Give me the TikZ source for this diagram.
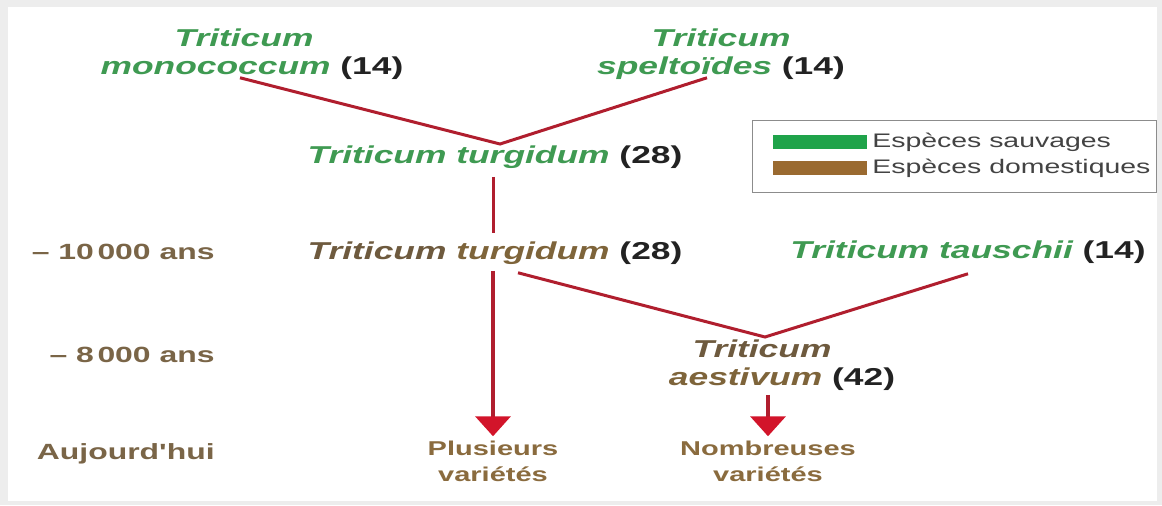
\documentclass[tikz,border=0pt]{standalone}
\usepackage{fontspec}
\usetikzlibrary{arrows.meta,calc}
\newfontfamily\wf[FakeStretch=1.45]{Liberation Sans}
\definecolor{wild}{HTML}{3F9A52}
\definecolor{dom}{HTML}{6E5A3E}
\definecolor{domb}{HTML}{7E643A}
\definecolor{timec}{HTML}{7A6547}
\definecolor{todayc}{HTML}{8A6B3E}
\definecolor{numc}{HTML}{222222}
\definecolor{linec}{HTML}{B01E2E}
\definecolor{headc}{HTML}{D2142A}
\definecolor{swg}{HTML}{1FA34A}
\definecolor{swb}{HTML}{9A6A30}
\tikzset{
  txt/.style={inner sep=0pt, align=center, font=\wf\bfseries\fontsize{12.2}{14}\selectfont, text=numc},
  timelbl/.style={inner sep=0pt, anchor=east, font=\wf\bfseries\fontsize{11}{13}\selectfont, text=timec},
  outlbl/.style={inner sep=0pt, align=center, font=\wf\bfseries\fontsize{10}{13}\selectfont, text=todayc},
  leglbl/.style={inner sep=0pt, anchor=west, font=\wf\fontsize{9.8}{12}\selectfont, text=numc!85},
  link/.style={draw=linec, line width=1.5pt},
  evol/.style={draw=linec, line width=2pt, -{Triangle[width=17.5pt,length=10pt,color=headc]}},
  swatch/.style={inner sep=0pt, minimum width=47pt, minimum height=7pt},
}
\newcommand{\wsp}[1]{\textcolor{wild}{\itshape #1}}
\newcommand{\dsp}[1]{\textcolor{dom}{\itshape #1}}
\begin{document}
\begin{tikzpicture}[x=0.5pt,y=-0.5pt]
\useasboundingbox (0,0) rectangle (1162,505);
\fill[black!7] (0,0) rectangle (1162,505);
\fill[white] (8,7) rectangle (1157,501);

% species
\node[txt] (mono) at (252,54) {\wsp{Triticum}\hspace*{8pt}\\\wsp{monococcum} (14)};
\node[txt] (spel) at (721,54) {\wsp{Triticum}\\\wsp{spelto\"{\i}des} (14)};
\node[txt] (turgw) at (495,157) {\wsp{Triticum turgidum} (28)};
\node[txt] (turgd) at (495,253) {\dsp{Triticum} \textcolor{domb}{\itshape turgidum} (28)};
\node[txt] (taus) at (968,252) {\wsp{Triticum tauschii} (14)};
\node[txt] (aest) at (782,365) {\dsp{Triticum}\hspace*{20pt}\\\textcolor{domb}{\itshape aestivum} (42)};

% time labels
\node[timelbl] (t1) at (215,252) {\textendash\ 10\,000 ans};
\node[timelbl] (t2) at (215,355) {\textendash\ 8\,000 ans};
\node[timelbl] (t3) at (215,454) {Aujourd'hui};

% outcomes
\node[outlbl] (plus) at (493,461) {Plusieurs\\vari\'et\'es};
\node[outlbl] (nomb) at (768,461) {Nombreuses\\vari\'et\'es};

% legend
\node[draw=black!45, line width=0.8pt, inner sep=0pt, minimum width=202pt, minimum height=36pt] (leg) at (954.5,156.5) {};
\node[swatch, fill=swg] (sg) at (820,142) {};
\node[swatch, fill=swb] (sb) at (820,168) {};
\node[leglbl] (lg) at (872,142) {Esp\`eces sauvages};
\node[leglbl] (lb) at (872,168) {Esp\`eces domestiques};

% connectors
\coordinate (v1) at (500,144);
\coordinate (v2) at (765,337);
\draw[link] ($(mono.south)+(-12,-2)$) -- (v1) -- ($(spel.south)+(-14,-2)$);
\draw[link] ($(turgw.south)+(-2,8)$) -- ($(turgd.north)+(-2,-8)$);
\draw[link] ($(turgd.south)+(23,8)$) -- (v2) -- ($(taus.south)+(0,10)$);
\draw[evol] ($(turgd.south)+(-2,6)$) -- ($(plus.north)+(0,-4)$);
\draw[evol] ($(aest.south)+(-14,4)$) -- ($(nomb.north)+(0,-4)$);
\end{tikzpicture}
\end{document}
